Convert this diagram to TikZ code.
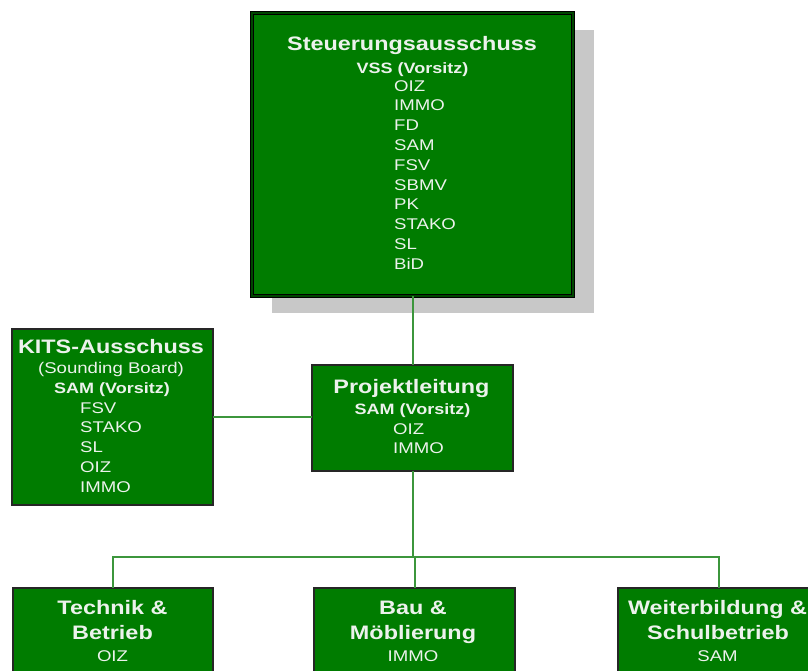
\documentclass[tikz,border=0pt]{standalone}
\usepackage{fontspec}
\setmainfont{Liberation Sans}
\usepackage{graphicx}
\definecolor{boxgreen}{RGB}{0,124,0}
\definecolor{darkgreen}{RGB}{0,70,0}
\definecolor{linegreen}{RGB}{60,150,60}
\definecolor{txt}{RGB}{236,242,236}
\definecolor{shadowgray}{RGB}{200,200,200}
\newcommand{\sx}[1]{\scalebox{1.2}[1]{#1}}
\begin{document}
\begin{tikzpicture}[x=1pt,y=-1pt,
  box/.style={draw=black!85, line width=1.5pt, fill=boxgreen, anchor=north west, inner sep=0pt, outer sep=0pt},
  ttl/.style={anchor=base, inner sep=0pt, text=txt, font=\bfseries\fontsize{19.5}{20}\selectfont},
  sub/.style={anchor=base, inner sep=0pt, text=txt, font=\bfseries\fontsize{15}{16}\selectfont},
  itm/.style={anchor=base west, inner sep=0pt, text=txt, font=\fontsize{15.5}{16}\selectfont},
  itmc/.style={itm, anchor=base},
  conn/.style={draw=linegreen, line width=2pt}]
\useasboundingbox (0,0) rectangle (808,670);
\clip (0,0) rectangle (808,670);
\fill[white] (0,0) rectangle (808,670);

% shadow of top box
\fill[shadowgray] (272,30) rectangle (594,313);

% boxes
\node[box, draw=black, line width=1.2pt, double=darkgreen, double distance=2.4pt,
      minimum width=321pt, minimum height=283pt] (top) at (252,13) {};
\node[box, minimum width=201pt, minimum height=176pt] (kits) at (12,329) {};
\node[box, minimum width=201pt, minimum height=106pt] (proj) at (312,365) {};
\node[box, minimum width=200pt, minimum height=110pt] (tech) at (13,588) {};
\node[box, minimum width=201pt, minimum height=110pt] (bau) at (314,588) {};
\node[box, minimum width=201pt, minimum height=110pt] (weit) at (618,588) {};

% connectors
\coordinate (bus) at (412.5,557);
\draw[conn] (top.south) -- (proj.north);
\draw[conn] (kits.east) -- (kits.east -| proj.west);
\draw[conn] (proj.south) -- (bus);
\draw[conn] (tech.north) |- (bus) -| (weit.north);
\draw[conn] (bus) -| (bau.north);

% top box text
\node[ttl] (topT) at (412,50) {\sx{Steuerungsausschuss}};
\node[sub] (topS) at (412.5,73) {\sx{VSS (Vorsitz)}};
\foreach \t [count=\i from 0] in {OIZ,IMMO,FD,SAM,FSV,SBMV,PK,STAKO,SL,BiD}
  \node[itm] (topI\i) at (394,{91+19.8*\i}) {\sx{\t}};

% KITS box text
\node[ttl] (kitsT) at (111,353) {\sx{KITS-Ausschuss}};
\node[itmc] (kitsB) at (111,373.5) {\sx{(Sounding Board)}};
\node[sub] (kitsS) at (112,393.5) {\sx{SAM (Vorsitz)}};
\foreach \t [count=\i from 0] in {FSV,STAKO,SL,OIZ,IMMO}
  \node[itm] (kitsI\i) at (80,{413+19.8*\i}) {\sx{\t}};

% Projektleitung text
\node[ttl] (projT) at (411.5,393) {\sx{Projektleitung}};
\node[sub] (projS) at (412.5,414) {\sx{SAM (Vorsitz)}};
\node[itm] (projI0) at (393,434) {\sx{OIZ}};
\node[itm] (projI1) at (393,453.5) {\sx{IMMO}};

% bottom boxes text
\node[ttl] (techT1) at (112.5,614) {\sx{Technik \&}};
\node[ttl] (techT2) at (112.5,639) {\sx{Betrieb}};
\node[itmc] (techI) at (112.5,661) {\sx{OIZ}};

\node[ttl] (bauT1) at (413,614) {\sx{Bau \&}};
\node[ttl] (bauT2) at (413,639) {\sx{Möblierung}};
\node[itmc] (bauI) at (413,661) {\sx{IMMO}};

\node[ttl] (weitT1) at (717.5,614) {\sx{Weiterbildung \&}};
\node[ttl] (weitT2) at (718,639) {\sx{Schulbetrieb}};
\node[itmc] (weitI) at (717.5,661) {\sx{SAM}};
\end{tikzpicture}
\end{document}
